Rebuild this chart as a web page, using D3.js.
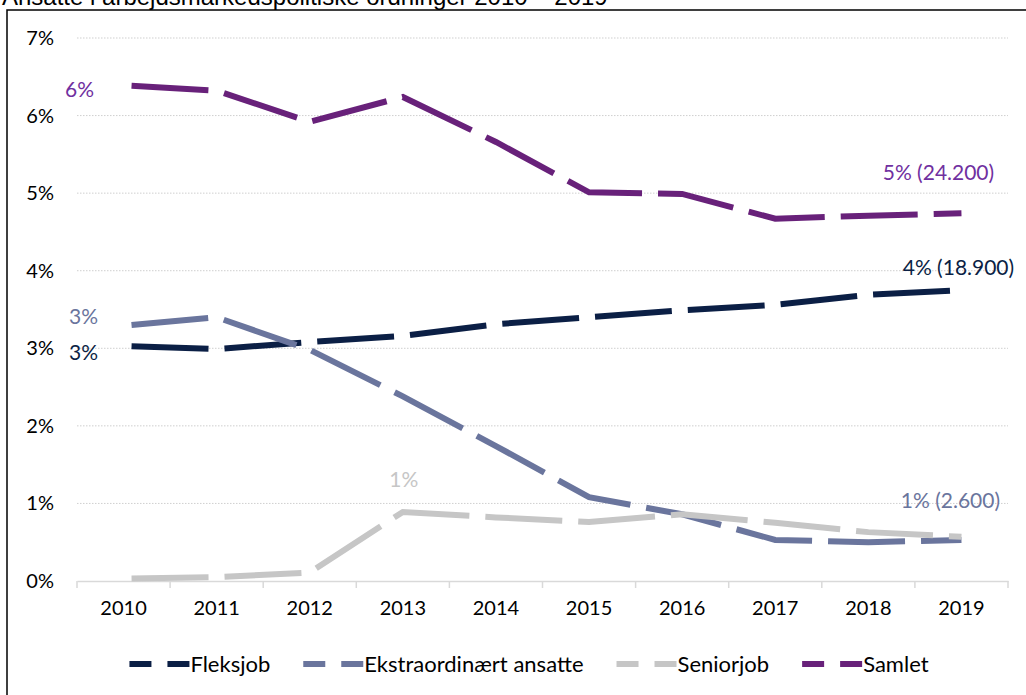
<!DOCTYPE html>
<html>
<head>
<meta charset="utf-8">
<script src="https://cdn.jsdelivr.net/npm/d3@7"></script>
<style>
    body { margin: 0; background: #fff; }
    svg { display: block; }
    text { font-family: Lato, "Open Sans", sans-serif; }
</style>
</head>
<body>
<script>
var years = ['2010', '2011', '2012', '2013', '2014', '2015', '2016', '2017', '2018', '2019'];
var yTicks = [0, 1, 2, 3, 4, 5, 6, 7];

var fleksjob = [3.03, 2.99, 3.08, 3.16, 3.31, 3.40, 3.49, 3.56, 3.69, 3.75];
var ekstraordinaert = [3.29, 3.40, 2.98, 2.38, 1.74, 1.08, 0.86, 0.53, 0.50, 0.53];
var seniorjob = [0.03, 0.05, 0.11, 0.89, 0.82, 0.76, 0.86, 0.75, 0.63, 0.57];
var samlet = [6.39, 6.32, 5.92, 6.24, 5.66, 5.01, 4.99, 4.67, 4.71, 4.74];

var seriesNames = ['Fleksjob', 'Ekstraordinært ansatte', 'Seniorjob', 'Samlet'];
var seriesColors = ['#0b1f45', '#6a759d', '#c6c6c6', '#68217a'];
var labelColors = ['#0b1f45', '#6a759d', '#c6c6c6', '#7030a0'];

// data labels: series index, year, text
var dataLabels = [
    [3, '2010', '6%'],
    [1, '2010', '3%'],
    [0, '2010', '3%'],
    [2, '2013', '1%'],
    [3, '2019', '5% (24.200)'],
    [0, '2019', '4% (18.900)'],
    [1, '2019', '1% (2.600)']
];

var title = 'Ansatte i arbejdsmarkedspolitiske ordninger 2010 – 2019';

(function () {
    var width = 1026;
    var height = 695;
    var plotLeft = 77, plotRight = 1008, plotTop = 38, plotBottom = 581;

    var svg = d3.select('body').append('svg')
        .attr('width', width)
        .attr('height', height);

    // title (cut off at the top like in the original)
    svg.append('text')
        .attr('x', 2)
        .attr('y', 5)
        .style('font-family', '"Liberation Sans", Arial, sans-serif')
        .style('font-size', '24px')
        .attr('fill', '#000')
        .text(title);

    // frame
    svg.append('rect')
        .attr('x', 7).attr('y', 10)
        .attr('width', 1040).attr('height', 720)
        .attr('fill', 'none')
        .attr('stroke', '#000')
        .attr('stroke-width', 1.5);

    var x = d3.scaleBand().domain(years).range([plotLeft, plotRight]);
    var y = d3.scaleLinear().domain([0, 7]).range([plotBottom, plotTop]);
    function px(yr) { return x(yr) + x.bandwidth() / 2; }

    // gridlines
    svg.append('g')
        .selectAll('line')
        .data(yTicks.filter(function (d) { return d > 0; }))
        .enter()
        .append('line')
        .attr('x1', plotLeft).attr('x2', plotRight)
        .attr('y1', function (d) { return y(d); })
        .attr('y2', function (d) { return y(d); })
        .attr('stroke', '#cfcfcf')
        .attr('stroke-width', 1)
        .attr('stroke-dasharray', '1.5 1.5');

    // y axis labels
    svg.append('g')
        .selectAll('text')
        .data(yTicks)
        .enter()
        .append('text')
        .attr('x', 54)
        .attr('y', function (d) { return y(d); })
        .attr('dy', '0.35em')
        .attr('text-anchor', 'end')
        .style('font-size', '20px')
        .attr('fill', '#000')
        .text(function (d) { return d + '%'; });

    // x axis
    var xAxis = d3.axisBottom(x).tickSize(0).tickPadding(20);
    var gx = svg.append('g')
        .attr('transform', 'translate(0,' + plotBottom + ')')
        .call(xAxis);
    gx.select('.domain').attr('stroke', '#d9d9d9').attr('stroke-width', 1.5);
    gx.selectAll('text')
        .style('font-family', 'Lato, sans-serif')
        .style('font-size', '20px')
        .attr('fill', '#000');
    gx.append('g')
        .selectAll('line')
        .data(years.concat(['end']))
        .enter()
        .append('line')
        .attr('x1', function (d, i) { return plotLeft + i * x.bandwidth(); })
        .attr('x2', function (d, i) { return plotLeft + i * x.bandwidth(); })
        .attr('y1', 0).attr('y2', 7)
        .attr('stroke', '#d9d9d9')
        .attr('stroke-width', 1.5);

    // lines
    var allSeries = [fleksjob, ekstraordinaert, seniorjob, samlet];
    var line = d3.line()
        .x(function (d, i) { return px(years[i]); })
        .y(function (d) { return y(d); });

    svg.append('g')
        .selectAll('path')
        .data(allSeries)
        .enter()
        .append('path')
        .attr('d', line)
        .attr('fill', 'none')
        .attr('stroke', function (d, i) { return seriesColors[i]; })
        .attr('stroke-width', 6)
        .attr('stroke-dasharray', '77 16')
        .attr('stroke-dashoffset', 85);

    // data labels, offsets relative to their point
    var labelOffsets = [[-44, 4], [-40, -9], [-40, 7], [1, -32], [-23, -41], [-3, -22], [-11, -39]];
    svg.append('g')
        .selectAll('text')
        .data(dataLabels)
        .enter()
        .append('text')
        .attr('x', function (d, i) { return px(d[1]) + labelOffsets[i][0]; })
        .attr('y', function (d, i) { return y(allSeries[d[0]][years.indexOf(d[1])]) + labelOffsets[i][1]; })
        .attr('dy', '0.35em')
        .attr('text-anchor', 'middle')
        .style('font-size', '21px')
        .attr('fill', function (d) { return labelColors[d[0]]; })
        .text(function (d) { return d[2]; });

    // legend
    var legend = svg.append('g').attr('transform', 'translate(0,664)');
    var items = legend.selectAll('g')
        .data(seriesNames)
        .enter()
        .append('g');
    items.append('line')
        .attr('x1', 0).attr('x2', 60)
        .attr('y1', 0).attr('y2', 0)
        .attr('stroke', function (d, i) { return seriesColors[i]; })
        .attr('stroke-width', 6)
        .attr('stroke-dasharray', '22 16');
    items.append('text')
        .attr('x', 61)
        .attr('dy', '0.35em')
        .style('font-size', '22px')
        .attr('fill', '#000')
        .text(function (d) { return d; });

    var pos = 0;
    var offsets = [];
    items.each(function () {
        offsets.push(pos);
        pos += 61 + this.querySelector('text').getComputedTextLength() + 33;
    });
    var total = pos - 33;
    var start = 529 - total / 2;
    items.attr('transform', function (d, i) { return 'translate(' + (start + offsets[i]) + ',0)'; });
})();
</script>
</body>
</html>
